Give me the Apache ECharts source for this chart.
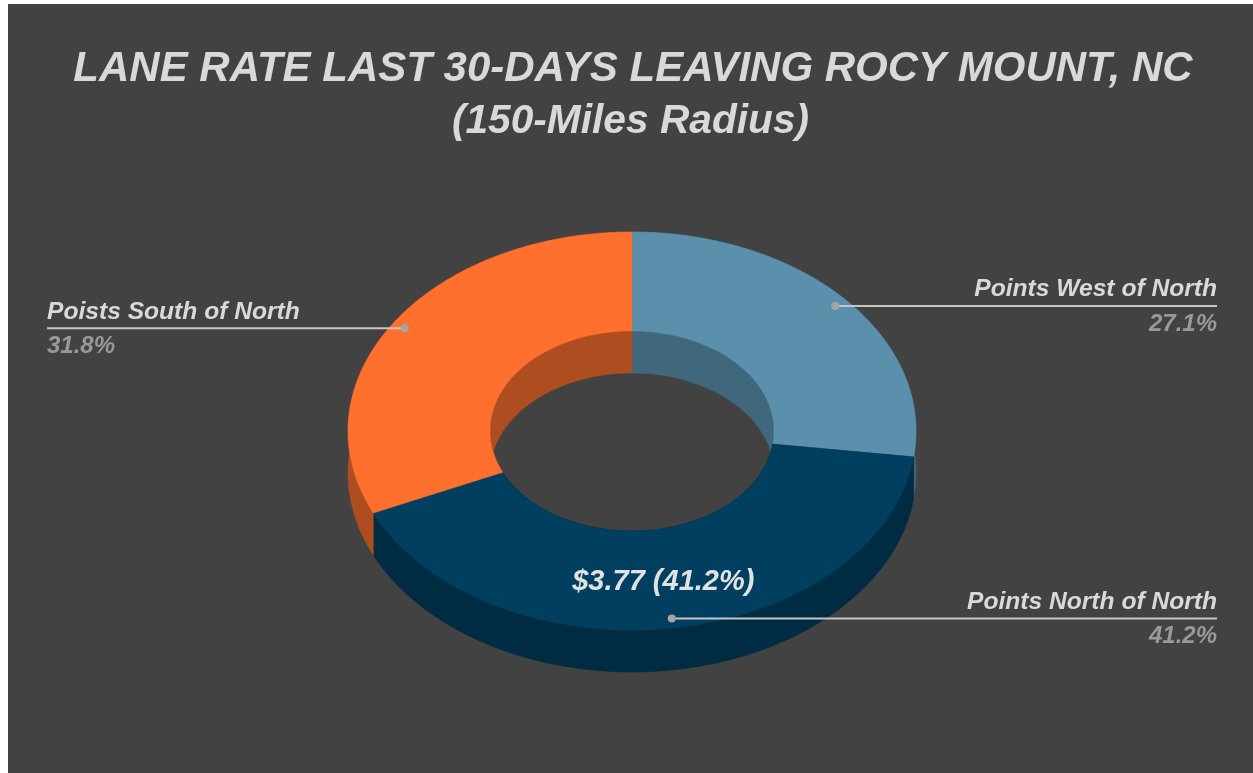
<!DOCTYPE html>
<html>
<head>
<meta charset="utf-8">
<title>Lane rate</title>
<style>
html, body { margin: 0; padding: 0; background: #fff; overflow: hidden; }
#chart { position: absolute; left: 8px; top: 4px; width: 1245px; height: 769px; }
</style>
<script src="https://cdn.jsdelivr.net/npm/echarts@6/dist/echarts.min.js"></script>
</head>
<body>
<div id="chart"></div>
<script>
var laneNames = ['Points West of North', 'Points North of North', 'Poists South of North'];
var laneRates = [2.48, 3.77, 2.91];
var topColors = ['#5a90ac', '#003f5f', '#ff6f2e'];
var wallColors = ['#40687d', '#002c43', '#ae4e20'];
var titleLines = ['LANE RATE LAST 30-DAYS LEAVING ROCY MOUNT, NC', '(150-Miles Radius)'];

// ring geometry, container px
var cx = 624, cy = 427;
var outerX = 284, outerY = 199;
var innerX = 142, innerY = 100;
var depth = 42;
var leftEnd = 39, rightEnd = 1209;

var total = laneRates.reduce(function (a, b) { return a + b; }, 0);
var biggest = laneRates.indexOf(Math.max.apply(null, laneRates));
var angles = [];
var sum = 0;
laneRates.forEach(function (v) {
    var start = sum / total * 360;
    sum += v;
    angles.push([start, sum / total * 360]);
});

function pct(i) {
    return (laneRates[i] / total * 100).toFixed(1) + '%';
}

function pos(deg, rx, ry, dy) {
    var t = deg * Math.PI / 180;
    return [cx + rx * Math.sin(t), cy - ry * Math.cos(t) + (dy || 0)];
}

// walk an ellipse arc from a to b
function arc(a, b, rx, ry, dy) {
    var pts = [];
    var n = Math.ceil(Math.abs(b - a)) * 2;
    for (var i = 0; i <= n; i++) {
        pts.push(pos(a + (b - a) * i / n, rx, ry, dy));
    }
    return pts;
}

function wall(i, rx, ry) {
    var a = angles[i][0], b = angles[i][1];
    return {
        type: 'polygon',
        shape: { points: arc(a, b, rx, ry, 0).concat(arc(b, a, rx, ry, depth)) },
        style: { fill: wallColors[i], stroke: wallColors[i], lineWidth: 0.5 }
    };
}

function renderWalls(params) {
    var i = params.dataIndex;
    return { type: 'group', children: [wall(i, outerX, outerY), wall(i, innerX, innerY)] };
}

function renderTops(params) {
    var i = params.dataIndex;
    var a = angles[i][0], b = angles[i][1];
    return {
        type: 'polygon',
        shape: { points: arc(a, b, outerX, outerY, 0).concat(arc(b, a, innerX, innerY, 0)) },
        style: { fill: topColors[i], stroke: topColors[i], lineWidth: 0.5 }
    };
}

function renderLabels(params) {
    var i = params.dataIndex;
    var mid = (angles[i][0] + angles[i][1]) / 2;
    var dot = pos(mid, outerX * 0.952, outerY * 0.952, 0);
    var isLeft = mid > 180 && dot[0] < cx;
    var endX = isLeft ? leftEnd : rightEnd;
    var align = isLeft ? 'left' : 'right';
    var kids = [
        {
            type: 'line',
            shape: { x1: dot[0], y1: dot[1], x2: endX, y2: dot[1] },
            style: { stroke: '#c6c6c6', lineWidth: 2 }
        },
        {
            type: 'circle',
            shape: { cx: dot[0], cy: dot[1], r: 4 },
            style: { fill: '#a5a5a5' }
        },
        {
            type: 'text',
            style: {
                x: endX, y: dot[1] - 4, text: laneNames[i], align: align, verticalAlign: 'bottom',
                fill: '#d9d9d9', font: 'italic bold 24.6px "Liberation Sans"'
            }
        },
        {
            type: 'text',
            style: {
                x: endX, y: dot[1] + 6, text: pct(i), align: align, verticalAlign: 'top',
                fill: '#999999', font: 'italic bold 24px "Liberation Sans"'
            }
        }
    ];
    if (i === biggest) {
        var c = pos(mid, outerX * 0.75, outerY * 0.75, 0);
        kids.push({
            type: 'text',
            style: {
                x: c[0], y: c[1] + 3, text: '$' + laneRates[i].toFixed(2) + ' (' + pct(i) + ')',
                align: 'center', verticalAlign: 'middle',
                fill: '#e2e2e2', font: 'italic bold 29px "Liberation Sans"'
            }
        });
    }
    return { type: 'group', children: kids };
}

function titleStyle(size) {
    return {
        color: '#d9d9d9',
        fontFamily: 'Liberation Sans',
        fontStyle: 'italic',
        fontWeight: 'bold',
        fontSize: size
    };
}

var chart = echarts.init(document.getElementById('chart'));
var option = {
    animation: false,
    backgroundColor: '#424242',
    tooltip: { show: false },
    title: [
        { text: titleLines[0], left: 620, top: 39, textAlign: 'center', textStyle: titleStyle(42) },
        { text: titleLines[1], left: 617.5, top: 92, textAlign: 'center', textStyle: titleStyle(40.7) }
    ],
    series: [
        { type: 'custom', coordinateSystem: 'none', silent: true, z: 1, renderItem: renderWalls, data: laneRates },
        { type: 'custom', coordinateSystem: 'none', silent: true, z: 2, renderItem: renderTops, data: laneRates },
        { type: 'custom', coordinateSystem: 'none', silent: true, z: 3, renderItem: renderLabels, data: laneRates }
    ]
};
option && chart.setOption(option);
</script>
</body>
</html>
